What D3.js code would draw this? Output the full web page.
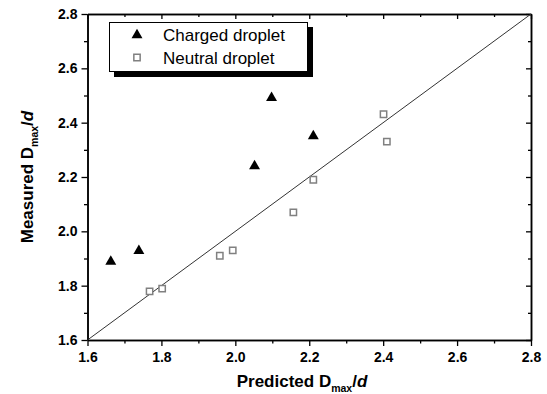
<!DOCTYPE html>
<html>
<head>
<meta charset="utf-8">
<script src="https://cdn.jsdelivr.net/npm/d3@7"></script>
<style>
  body { margin: 0; background: #fff; }
  svg { display: block; font-family: Arial, "Liberation Sans", sans-serif; }
</style>
</head>
<body>
<div id="chart"></div>
<script>
// data
const chargedX = [1.663, 1.739, 2.052, 2.098, 2.211];
const chargedY = [1.892, 1.932, 2.244, 2.495, 2.354];
const neutralX = [1.768, 1.802, 1.958, 1.993, 2.157, 2.211, 2.401, 2.410];
const neutralY = [1.779, 1.789, 1.910, 1.930, 2.070, 2.190, 2.431, 2.330];
const majorTicks = [1.6, 1.8, 2.0, 2.2, 2.4, 2.6, 2.8];
const minorTicks = [1.7, 1.9, 2.1, 2.3, 2.5, 2.7];
const seriesNames = ["Charged droplet", "Neutral droplet"];

const W = 547, H = 394;
const plotL = 87.5, plotR = 531, plotT = 14, plotB = 340;

const svg = d3.select("#chart").append("svg")
  .attr("width", W).attr("height", H);

const x = d3.scaleLinear().domain([1.6, 2.8]).range([plotL, plotR]);
const y = d3.scaleLinear().domain([1.6, 2.8]).range([plotB, plotT]);

const fmt = d3.format(".1f");

function styleAxis(g) {
  g.select(".domain").attr("stroke", "#000").attr("stroke-width", 1.5);
  g.selectAll(".tick line").attr("stroke", "#000").attr("stroke-width", 1.3);
  g.selectAll(".tick text")
    .attr("font-size", 14).attr("font-weight", "bold").attr("fill", "#000");
}

// bottom
svg.append("g").attr("transform", `translate(0,${plotB})`)
  .call(d3.axisBottom(x).tickValues(majorTicks).tickFormat(fmt).tickSizeInner(6).tickSizeOuter(0).tickPadding(6))
  .call(styleAxis);
svg.append("g").attr("transform", `translate(0,${plotB})`)
  .call(d3.axisBottom(x).tickValues(minorTicks).tickFormat("").tickSizeInner(3.5).tickSizeOuter(0))
  .call(styleAxis);
// left
svg.append("g").attr("transform", `translate(${plotL},0)`)
  .call(d3.axisLeft(y).tickValues(majorTicks).tickFormat(fmt).tickSizeInner(6).tickSizeOuter(0).tickPadding(4))
  .call(styleAxis);
svg.append("g").attr("transform", `translate(${plotL},0)`)
  .call(d3.axisLeft(y).tickValues(minorTicks).tickFormat("").tickSizeInner(3.5).tickSizeOuter(0))
  .call(styleAxis);
// top (ticks inward)
svg.append("g").attr("transform", `translate(0,${plotT})`)
  .call(d3.axisBottom(x).tickValues(majorTicks).tickFormat("").tickSizeInner(5).tickSizeOuter(0))
  .call(styleAxis);
svg.append("g").attr("transform", `translate(0,${plotT})`)
  .call(d3.axisBottom(x).tickValues(minorTicks).tickFormat("").tickSizeInner(3).tickSizeOuter(0))
  .call(styleAxis);
// right (ticks inward)
svg.append("g").attr("transform", `translate(${plotR},0)`)
  .call(d3.axisLeft(y).tickValues(majorTicks).tickFormat("").tickSizeInner(5).tickSizeOuter(0))
  .call(styleAxis);
svg.append("g").attr("transform", `translate(${plotR},0)`)
  .call(d3.axisLeft(y).tickValues(minorTicks).tickFormat("").tickSizeInner(3).tickSizeOuter(0))
  .call(styleAxis);

// y = x line
svg.append("line")
  .attr("x1", x(1.6)).attr("y1", y(1.6))
  .attr("x2", x(2.8)).attr("y2", y(2.8))
  .attr("stroke", "#333").attr("stroke-width", 1);

const tri = d3.symbol().type(d3.symbolTriangle).size(52);
const sq = d3.symbol().type(d3.symbolSquare).size(40);

// neutral
svg.append("g").selectAll("path")
  .data(neutralX.map((v, i) => [v, neutralY[i]]))
  .enter().append("path")
  .attr("d", sq)
  .attr("transform", d => `translate(${x(d[0])},${y(d[1])})`)
  .attr("fill", "#fff").attr("stroke", "#808080").attr("stroke-width", 1.5);

// charged
svg.append("g").selectAll("path")
  .data(chargedX.map((v, i) => [v, chargedY[i]]))
  .enter().append("path")
  .attr("d", tri)
  .attr("transform", d => `translate(${x(d[0])},${y(d[1]) + 1})`)
  .attr("fill", "#000");

// legend
const lg = svg.append("g");
lg.append("rect").attr("x", 114).attr("y", 27).attr("width", 199).attr("height", 50).attr("fill", "#000");
lg.append("rect").attr("x", 109.5).attr("y", 22.5).attr("width", 198).attr("height", 49)
  .attr("fill", "#fff").attr("stroke", "#000").attr("stroke-width", 1);
lg.append("path").attr("d", tri).attr("transform", "translate(137,35)").attr("fill", "#000");
lg.append("path").attr("d", sq).attr("transform", "translate(137,57.5)")
  .attr("fill", "#fff").attr("stroke", "#808080").attr("stroke-width", 1.5);
lg.selectAll("text").data(seriesNames).enter().append("text")
  .attr("x", 163).attr("y", (d, i) => 41 + i * 22.5)
  .attr("font-size", 17).attr("fill", "#000")
  .text(d => d);

// axis titles
const xt = svg.append("text")
  .attr("x", 302).attr("y", 387)
  .attr("text-anchor", "middle")
  .attr("font-size", 17).attr("font-weight", "bold");
xt.append("tspan").text("Predicted D");
xt.append("tspan").attr("font-size", 10.5).attr("dy", 5).text("max");
xt.append("tspan").attr("dy", -5).text("/");
xt.append("tspan").attr("font-style", "italic").text("d");

const yt = svg.append("text")
  .attr("transform", `translate(33,${(plotT + plotB) / 2}) rotate(-90)`)
  .attr("text-anchor", "middle")
  .attr("font-size", 17).attr("font-weight", "bold");
yt.append("tspan").text("Measured D");
yt.append("tspan").attr("font-size", 10.5).attr("dy", 5).text("max");
yt.append("tspan").attr("dy", -5).text("/");
yt.append("tspan").attr("font-style", "italic").text("d");
</script>
</body>
</html>
